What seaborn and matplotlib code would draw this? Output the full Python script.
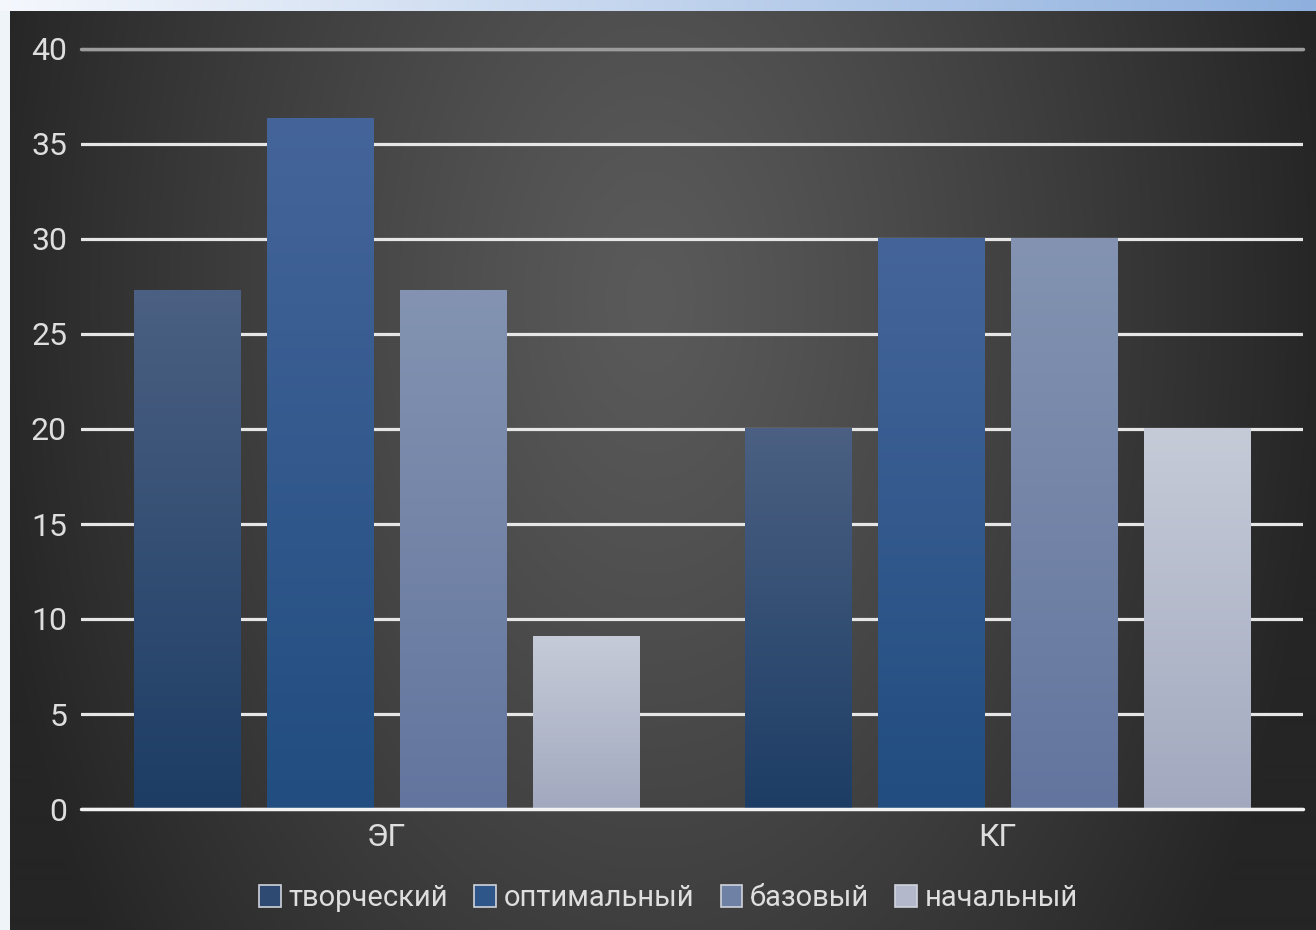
import numpy as np
import pandas as pd
import matplotlib
matplotlib.use("Agg")
import matplotlib.pyplot as plt
import seaborn as sns
from matplotlib.colors import to_rgb
from matplotlib.patches import Patch

# data
groups = ["ЭГ", "КГ"]
levels = ["творческий", "оптимальный", "базовый", "начальный"]
values_eg = [27.27, 36.36, 27.27, 9.09]
values_kg = [20, 30, 30, 20]
yticks = [0, 5, 10, 15, 20, 25, 30, 35, 40]

# bar gradient colours (top -> bottom) and a mid tone for legend
top_colors = ["#4b6082", "#45659a", "#8393b1", "#c5cbd7"]
bottom_colors = ["#1d3d65", "#214d80", "#63759e", "#a2a9bf"]
mid_colors = ["#2e4a72", "#2f5688", "#7081a6", "#b3b9cb"]

df = pd.DataFrame({
    "group": np.repeat(groups, len(levels)),
    "level": levels * len(groups),
    "value": values_eg + values_kg,
})

sns.set_theme(style="dark")
plt.rcParams['font.family'] = ['Roboto', 'DejaVu Sans']

W, H = 1316, 930
fig = plt.figure(figsize=(W / 100, H / 100), dpi=100)

# background: light frame + dark radial gradient panel
yy, xx = np.mgrid[0:H, 0:W]
d = np.sqrt(((xx - 650) / 680.0) ** 2 + ((yy - 300) / 1100.0) ** 2)
d = np.clip(d, 0, 1) ** 1.2
shade = 0x5a / 255 - (0x5a - 0x25) / 255 * d
img = np.dstack([shade, shade, shade])
t = xx / W
frame = np.dstack([0.96 - 0.40 * t, 0.97 - 0.28 * t, 0.99 - 0.12 * t])
left_frame = np.dstack([np.full_like(shade, 0.94), np.full_like(shade, 0.96), np.full_like(shade, 0.98)])
img = np.where((yy < 12)[..., None], frame, img)
img = np.where(((xx < 10) & (yy >= 12))[..., None], left_frame, img)
bg = fig.add_axes([0, 0, 1, 1])
bg.imshow(img, aspect="auto", interpolation="bilinear")
bg.axis("off")

ax = fig.add_axes([81 / W, 1 - 809 / H, 1222 / W, 760 / H])
ax.patch.set_alpha(0)

sns.barplot(data=df, x="group", y="value", hue="level", hue_order=levels,
            palette=mid_colors, width=0.87, gap=0.2, ax=ax, legend=False,
            edgecolor="none", linewidth=0, zorder=2)

# replace flat bar fills with vertical gradients
for i, cont in enumerate(ax.containers):
    c_top = np.array(to_rgb(top_colors[i]))
    c_bot = np.array(to_rgb(bottom_colors[i]))
    ramp = np.linspace(0, 1, 256)[:, None, None]
    grad = c_bot + (c_top - c_bot) * ramp
    for bar in cont:
        x0 = bar.get_x()
        w = bar.get_width()
        h = bar.get_height()
        ax.imshow(grad, extent=[x0, x0 + w, 0, h], origin="lower",
                  aspect="auto", zorder=2.5, interpolation="bilinear")

ax.set_xlim(-0.5, 1.5)
ax.set_ylim(0, 40)
ax.set_yticks(yticks)
ax.grid(axis="y", color="#e6e6e6", linewidth=2.3, zorder=1)
ax.grid(axis="x", visible=False)
ax.set_axisbelow(True)
for s in ax.spines.values():
    s.set_visible(False)
ax.axhline(40, color="#9c9c9c", linewidth=2.5, zorder=1.5, clip_on=False)
ax.axhline(0, color="#f2f2f2", linewidth=2.5, zorder=3, clip_on=False)
ax.tick_params(axis="both", length=0, colors="#dedede", labelsize=23)
ax.tick_params(axis="y", pad=10)
ax.tick_params(axis="x", pad=10)
ax.set_xlabel("")
ax.set_ylabel("")

handles = [Patch(facecolor=mid_colors[i], edgecolor="#d0d4dc", linewidth=1.2, label=lv)
           for i, lv in enumerate(levels)]
fig.legend(handles=handles, loc="center", bbox_to_anchor=(0.508, 1 - 898 / H),
           ncol=4, frameon=False, fontsize=21, handlelength=0.75, handleheight=0.75,
           handletextpad=0.25, columnspacing=0.9, labelcolor="#dedede")

fig.savefig("out.png", dpi=100)
